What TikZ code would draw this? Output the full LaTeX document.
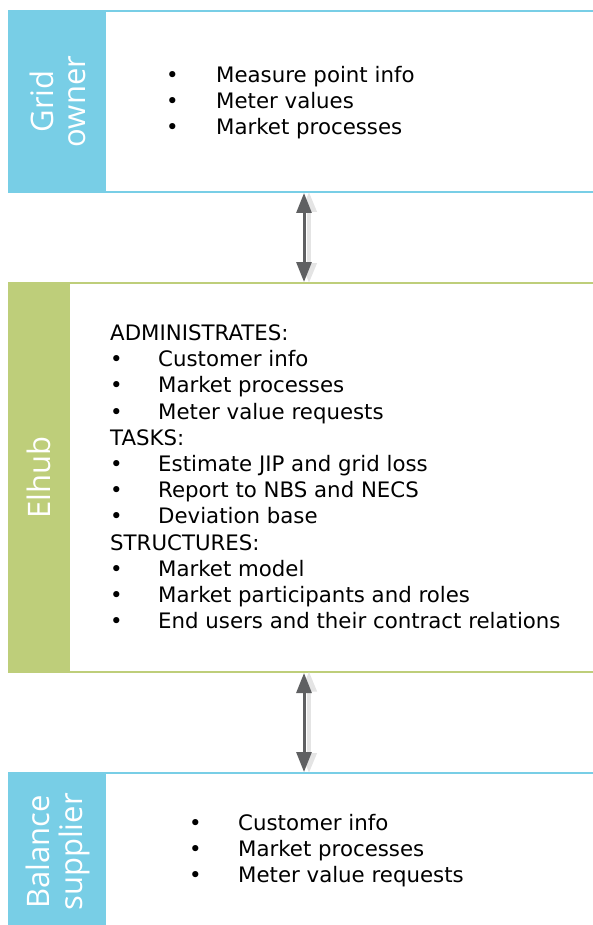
\documentclass[tikz,border=0pt]{standalone}
\usepackage{fontspec}
\setmainfont{DejaVu Sans}
\newfontfamily\labelfont{Open Sans}
\usetikzlibrary{arrows.meta}
\definecolor{gblue}{RGB}{120,206,230}
\definecolor{egreen}{RGB}{190,206,122}
\definecolor{agray}{RGB}{95,96,98}
\definecolor{sgray}{RGB}{228,228,228}
\newcommand\bitem[2]{\makebox[#1][l]{•}#2}
\begin{document}
\begin{tikzpicture}[x=1pt,y=-1pt,
  boxarea/.style={inner sep=0pt, outer sep=0pt, anchor=north west, minimum width=600pt},
  panel/.style={fill=#1, inner sep=0pt, outer sep=0pt, anchor=north west},
  plabel/.style={text=white, inner sep=0pt, rotate=90, align=center, font=\labelfont\fontsize{31}{32.5}\selectfont},
  frame/.style={draw=#1, line width=2pt},
  body/.style={anchor=base west, inner sep=0pt, align=left, font=\fontsize{21.3}{26.2}\selectfont},
  dbl/.style={draw=agray, line width=3pt, {Triangle[width=15pt,length=20pt]}-{Triangle[width=15pt,length=20pt]}},
  dblshadow/.style={draw=sgray, line width=4pt, {Triangle[width=15pt,length=20pt]}-{Triangle[width=15pt,length=20pt]}}]
\useasboundingbox (0,0) rectangle (593,925);
% boxes
\node[boxarea, minimum height=181pt] (gobox) at (8,11) {};
\node[boxarea, minimum height=388.5pt] (ehbox) at (8,283) {};
\node[boxarea, minimum height=160pt] (bsbox) at (8,773) {};
% panels
\node[panel=gblue, minimum width=98pt, minimum height=183pt] (gop) at (8,10) {};
\node[panel=egreen, minimum width=62pt, minimum height=391pt] (ehp) at (8,282) {};
\node[panel=gblue, minimum width=98pt, minimum height=160pt] (bsp) at (8,772) {};
% frames
\draw[frame=gblue] (gop.north east |- gobox.north) -- (gobox.north east);
\draw[frame=gblue] (gop.north east |- gobox.south) -- (gobox.south east);
\draw[frame=egreen] (ehp.north east |- ehbox.north) -- (ehbox.north east);
\draw[frame=egreen] (ehp.north east |- ehbox.south) -- (ehbox.south east);
\draw[frame=gblue] (bsp.north east |- bsbox.north) -- (bsbox.north east);
% panel labels
\node[plabel] (gol) at ([xshift=1pt]gop.center) {Grid\\owner};
\node[plabel] (ehl) at (ehp.center) {Elhub};
\node[plabel] (bsl) at ([xshift=1pt]bsp.center) {Balance\\supplier};
% body texts (anchor = baseline of last line)
\node[body] (got) at (166,134.5) {\bitem{50pt}{Measure point info}\\\bitem{50pt}{Meter values}\\\bitem{50pt}{Market processes}};
\node[body] (eht) at (110,628.6) {ADMINISTRATES:\\
\bitem{48pt}{Customer info}\\
\bitem{48pt}{Market processes}\\
\bitem{48pt}{Meter value requests}\\
TASKS:\\
\bitem{48pt}{Estimate JIP and grid loss}\\
\bitem{48pt}{Report to NBS and NECS}\\
\bitem{48pt}{Deviation base}\\
STRUCTURES:\\
\bitem{48pt}{Market model}\\
\bitem{48pt}{Market participants and roles}\\
\bitem{48pt}{End users and their contract relations}};
\node[body] (bst) at (189,882.5) {\bitem{49pt}{Customer info}\\\bitem{49pt}{Market processes}\\\bitem{49pt}{Meter value requests}};
% arrows
\coordinate (ax) at (304,0);
\coordinate (axs) at (309,0);
\draw[dblshadow] (axs |- gobox.south) -- (axs |- ehbox.north);
\draw[dblshadow] (axs |- ehbox.south) -- (axs |- bsbox.north);
\draw[dbl] (ax |- gop.south) -- (ax |- ehp.north);
\draw[dbl] (ax |- ehp.south) -- (ax |- bsp.north);
\end{tikzpicture}
\end{document}
